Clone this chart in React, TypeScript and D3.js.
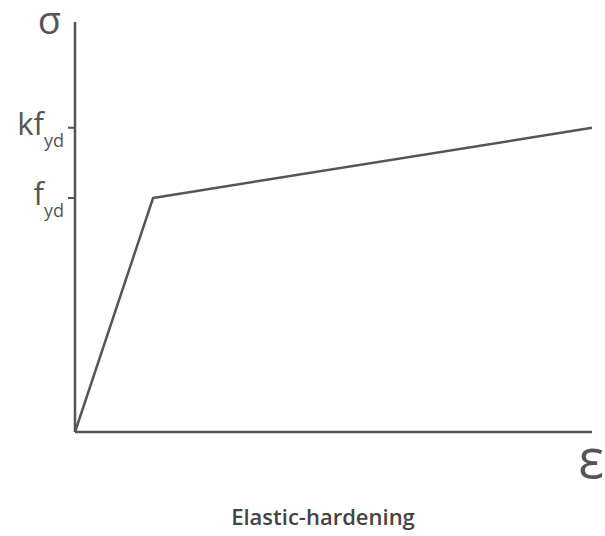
import React from "react";
import * as d3 from "d3";

// strain / stress points of the elastic-hardening law (fyd = 1)
const strain = [0, 0.151, 1.0];
const stress = [0, 1.0, 1.3];
const tickValues = [1.0, 1.3];
const tickNames = ["f", "kf"];

const W = 605,
  H = 536;

export default function App() {
  const x = d3.scaleLinear().domain([0, 1]).range([75, 592]);
  const y = d3.scaleLinear().domain([0, 1.752]).range([432, 22]);

  const line = d3
    .line<number>()
    .x((d, i) => x(strain[i]))
    .y((d) => y(d));

  const col = "#555";
  const font = "'Open Sans', sans-serif";

  return (
    <svg width={W} height={H} style={{ position: "absolute", left: 0, top: 0 }}>
      <rect width={W} height={H} fill="#fff" />
      {/* axes */}
      <line x1={x(0)} x2={x(0)} y1={y(0)} y2={y.range()[1]} stroke={col} strokeWidth={2.5} />
      <line x1={x(0)} x2={x(1)} y1={y(0)} y2={y(0)} stroke={col} strokeWidth={2.5} />
      {/* ticks */}
      {tickValues.map((v, i) => (
        <g key={i}>
          <line x1={x(0) - 7} x2={x(0)} y1={y(v)} y2={y(v)} stroke={col} strokeWidth={2} />
          <text x={x(0) - 11} y={y(v) + 7} textAnchor="end" fontFamily={font} fontSize={31} fill={col}>
            {tickNames[i]}
            <tspan fontSize={18} dy={12}>yd</tspan>
          </text>
        </g>
      ))}
      {/* curve */}
      <path d={line(stress) || ""} fill="none" stroke={col} strokeWidth={2.5} strokeLinejoin="round" />
      {/* axis symbols */}
      <text x={61} y={34} textAnchor="end" fontFamily={font} fontSize={38} fill={col}>σ</text>
      <text x={604} y={478} textAnchor="end" fontFamily={font} fontSize={54} fill={col}>ε</text>
      <text x={323} y={525} textAnchor="middle" fontFamily={font} fontSize={22} fontWeight={600} fill="#444">
        Elastic-hardening
      </text>
    </svg>
  );
}
